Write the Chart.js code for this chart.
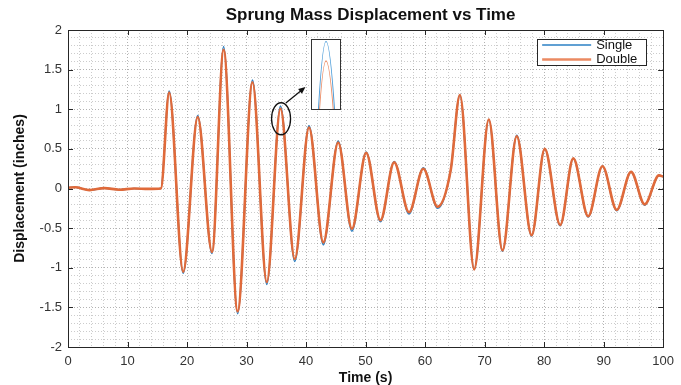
<!DOCTYPE html>
<html>
<head>
<meta charset="utf-8">
<script src="https://cdn.jsdelivr.net/npm/chart.js@4"></script>
<style>
html, body { margin: 0; padding: 0; background: #fff; }
#wrap { position: relative; width: 681px; height: 385px; }
canvas { display: block; }
#inset { position: absolute; left: 311px; top: 39px; width: 30px; height: 71px; border: 1px solid #333; box-sizing: border-box; background: #fff; }
</style>
</head>
<body>
<div id="wrap">
  <canvas id="mainChart" width="681" height="385"></canvas>
  <div id="inset"><canvas id="insetChart" width="28" height="69"></canvas></div>
</div>
<script>
// Peaks / troughs (time in s, displacement in inches)
const timeS = [0, 1.2, 3.6, 6.1, 8.6, 11.1, 13.5, 15.6,
    17.0, 19.35, 21.8, 24.2, 26.15, 28.5, 31.0, 33.4, 35.7, 38.1, 40.5, 42.9,
    45.4, 47.7, 50.1, 52.5, 54.8, 57.3, 59.7, 62.1, 64.3, 65.85, 68.25, 70.7,
    73.0, 75.4, 77.9, 80.1, 82.7, 84.9, 87.4, 89.8, 92.2, 94.6, 96.9, 99.3, 100];

const singleIn = [0.01, 0.015, -0.02, 0.005, -0.015, 0.0, -0.005, 0.0,
    1.23, -1.07, 0.92, -0.82, 1.79, -1.58, 1.37, -1.21, 1.04, -0.92, 0.79, -0.71,
    0.60, -0.54, 0.46, -0.42, 0.34, -0.32, 0.26, -0.25, 0.23, 1.18, -1.02, 0.87,
    -0.79, 0.67, -0.60, 0.50, -0.47, 0.38, -0.36, 0.28, -0.28, 0.21, -0.21, 0.165, 0.15];

const doubleIn = [0.01, 0.015, -0.02, 0.005, -0.015, 0.0, -0.005, 0.0,
    1.21, -1.05, 0.90, -0.80, 1.75, -1.55, 1.34, -1.18, 1.01, -0.89, 0.77, -0.68,
    0.58, -0.51, 0.45, -0.40, 0.33, -0.30, 0.25, -0.23, 0.23, 1.18, -1.02, 0.87,
    -0.78, 0.66, -0.59, 0.50, -0.46, 0.38, -0.35, 0.28, -0.27, 0.21, -0.20, 0.165, 0.15];

const seriesNames = ['Single', 'Double'];
const chartTitle = 'Sprung Mass Displacement vs Time';
const xTickStep = 10;
const yTickStep = 0.5;

const blue = '#2b80c4';
const orange = '#e06a3a';
const textColor = '#333333';
const fontFamily = "'Liberation Sans', Arial, sans-serif";

function toPoints(values) {
    return values.map((v, i) => ({ x: timeS[i], y: v }));
}

function isMajor(v, step) {
    const r = v / step;
    return Math.abs(r - Math.round(r)) < 1e-6;
}

// title centred over the axes instead of the canvas
const titlePlugin = {
    id: 'axesTitle',
    afterDraw(chart) {
        const { ctx, chartArea: a } = chart;
        ctx.save();
        ctx.fillStyle = '#111';
        ctx.font = 'bold 17px ' + fontFamily;
        ctx.textAlign = 'center';
        ctx.textBaseline = 'middle';
        ctx.fillText(chartTitle, (a.left + a.right) / 2 + 5, 15);
        ctx.restore();
    }
};

// box around the axes with inward ticks
const boxPlugin = {
    id: 'axesBox',
    afterDatasetsDraw(chart) {
        const { ctx, chartArea: a, scales } = chart;
        ctx.save();
        ctx.strokeStyle = '#262626';
        ctx.lineWidth = 1;
        ctx.strokeRect(Math.round(a.left) + 0.5, Math.round(a.top) + 0.5,
            Math.round(a.right - a.left), Math.round(a.bottom - a.top));
        ctx.beginPath();
        for (let v = 0; v <= 100; v += xTickStep) {
            const px = Math.round(scales.x.getPixelForValue(v)) + 0.5;
            ctx.moveTo(px, a.bottom); ctx.lineTo(px, a.bottom - 5);
            ctx.moveTo(px, a.top); ctx.lineTo(px, a.top + 5);
        }
        for (let v = -2; v <= 2; v += yTickStep) {
            const py = Math.round(scales.y.getPixelForValue(v)) + 0.5;
            ctx.moveTo(a.left, py); ctx.lineTo(a.left + 5, py);
            ctx.moveTo(a.right, py); ctx.lineTo(a.right - 5, py);
        }
        ctx.stroke();
        ctx.restore();
    }
};

// legend box in the upper right corner of the axes
const legendPlugin = {
    id: 'boxLegend',
    afterDatasetsDraw(chart) {
        const { ctx, chartArea: a } = chart;
        const w = 109, h = 26;
        const x0 = a.right - 17 - w, y0 = a.top + 9;
        ctx.save();
        ctx.fillStyle = '#fff';
        ctx.fillRect(x0, y0, w, h);
        ctx.strokeStyle = '#262626';
        ctx.lineWidth = 1;
        ctx.strokeRect(Math.round(x0) + 0.5, Math.round(y0) + 0.5, w, h);
        const colors = [blue, '#eb8a62'];
        ctx.font = '13px ' + fontFamily;
        ctx.textBaseline = 'middle';
        seriesNames.forEach((name, i) => {
            const yy = y0 + 6 + i * 14.5;
            ctx.strokeStyle = colors[i];
            ctx.lineWidth = i === 0 ? 1.5 : 2.5;
            ctx.beginPath();
            ctx.moveTo(x0 + 5, yy); ctx.lineTo(x0 + 54, yy);
            ctx.stroke();
            ctx.fillStyle = '#111';
            ctx.fillText(name, x0 + 59, yy);
        });
        ctx.restore();
    }
};

// ellipse around the peak near 35.7 s and arrow to the zoomed inset
const calloutPlugin = {
    id: 'callout',
    afterDatasetsDraw(chart) {
        const { ctx, scales: { x, y } } = chart;
        ctx.save();
        ctx.strokeStyle = '#111';
        ctx.fillStyle = '#111';
        ctx.lineWidth = 1.3;
        ctx.beginPath();
        ctx.ellipse(x.getPixelForValue(35.8), y.getPixelForValue(0.88), 9.5, 16, 0, 0, Math.PI * 2);
        ctx.stroke();
        const x1 = x.getPixelForValue(36.6), y1 = y.getPixelForValue(1.08);
        const x2 = x.getPixelForValue(39.9), y2 = y.getPixelForValue(1.28);
        const ang = Math.atan2(y2 - y1, x2 - x1);
        ctx.beginPath();
        ctx.moveTo(x1, y1);
        ctx.lineTo(x2 - 5 * Math.cos(ang), y2 - 5 * Math.sin(ang));
        ctx.stroke();
        ctx.beginPath();
        ctx.moveTo(x2, y2);
        ctx.lineTo(x2 - 7 * Math.cos(ang) + 3 * Math.sin(ang), y2 - 7 * Math.sin(ang) - 3 * Math.cos(ang));
        ctx.lineTo(x2 - 7 * Math.cos(ang) - 3 * Math.sin(ang), y2 - 7 * Math.sin(ang) + 3 * Math.cos(ang));
        ctx.closePath();
        ctx.fill();
        ctx.restore();
    }
};

const gridColor = (step) => (c) =>
    (c.tick && isMajor(c.tick.value, step)) ? 'rgba(0,0,0,0.3)' : 'rgba(0,0,0,0.2)';

new Chart(document.getElementById('mainChart'), {
    type: 'line',
    data: {
        datasets: [
            { label: 'Double', data: toPoints(doubleIn), borderColor: orange, borderWidth: 2.6, order: 0 },
            { label: 'Single', data: toPoints(singleIn), borderColor: blue, borderWidth: 1.6, order: 1 }
        ]
    },
    options: {
        responsive: false,
        animation: false,
        elements: {
            point: { radius: 0 },
            line: { cubicInterpolationMode: 'monotone' }
        },
        layout: { padding: { left: 0, right: 14, top: 30, bottom: 0 } },
        scales: {
            x: {
                type: 'linear', min: 0, max: 100,
                ticks: {
                    stepSize: 2, autoSkip: false, maxRotation: 0, padding: 7,
                    color: textColor, font: { family: fontFamily, size: 13 },
                    callback: v => isMajor(v, xTickStep) ? String(v) : ''
                },
                grid: { drawTicks: false, color: gridColor(xTickStep), lineWidth: 1 },
                border: { display: false, dash: [1, 2] },
                title: {
                    display: true, text: 'Time (s)', color: '#111',
                    font: { family: fontFamily, size: 14, weight: 'bold', lineHeight: 1 },
                    padding: { top: 0, bottom: 0 }
                },
                afterFit: s => { s.height = 38; }
            },
            y: {
                min: -2, max: 2,
                ticks: {
                    stepSize: 0.1, autoSkip: false, padding: 6,
                    color: textColor, font: { family: fontFamily, size: 13 },
                    callback: v => isMajor(v, yTickStep) ? String(Math.round(v * 2) / 2) : ''
                },
                grid: { drawTicks: false, color: gridColor(yTickStep), lineWidth: 1 },
                border: { display: false, dash: [1, 2] },
                title: {
                    display: true, text: 'Displacement (inches)', color: '#111',
                    font: { family: fontFamily, size: 14, weight: 'bold', lineHeight: 1 },
                    padding: { top: 13, bottom: 0 }
                },
                afterFit: s => { s.width = 68; }
            }
        },
        plugins: {
            legend: { display: false },
            tooltip: { enabled: false },
            title: { display: false }
        }
    },
    plugins: [boxPlugin, legendPlugin, calloutPlugin, titlePlugin]
});

// zoomed view of the 35.7 s peak, same data
new Chart(document.getElementById('insetChart'), {
    type: 'line',
    data: {
        datasets: [
            { label: 'Single', data: toPoints(singleIn), borderColor: '#4a9bd8', borderWidth: 1.2 },
            { label: 'Double', data: toPoints(doubleIn), borderColor: '#eb8a62', borderWidth: 1.2 }
        ]
    },
    options: {
        responsive: false,
        animation: false,
        elements: {
            point: { radius: 0 },
            line: { cubicInterpolationMode: 'monotone' }
        },
        layout: { padding: 0 },
        scales: {
            x: { type: 'linear', display: false, min: 35.15, max: 36.25 },
            y: { display: false, min: 0.936, max: 1.0423 }
        },
        plugins: { legend: { display: false }, tooltip: { enabled: false }, title: { display: false } }
    }
});
</script>
</body>
</html>
